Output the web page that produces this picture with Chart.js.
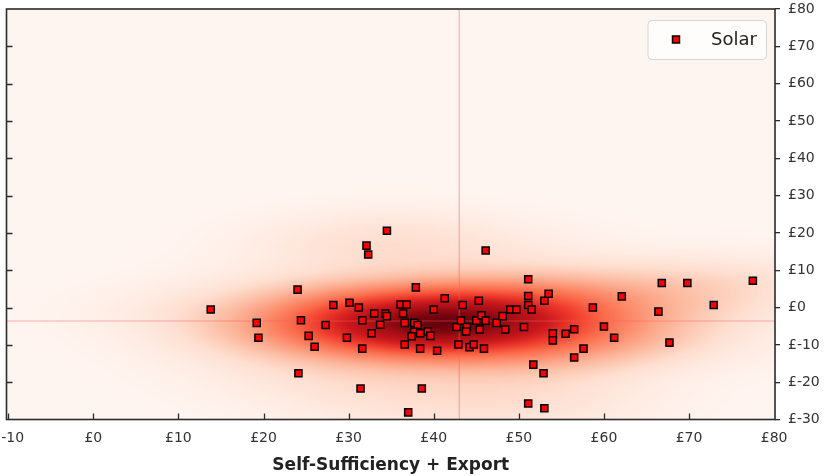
<!DOCTYPE html>
<html>
<head>
<meta charset="utf-8">
<script src="https://cdn.jsdelivr.net/npm/chart.js@4.4.1/dist/chart.umd.min.js"></script>
<style>
  html, body { margin: 0; padding: 0; background: #ffffff; }
  #wrap { position: relative; width: 825px; height: 476px; }
</style>
</head>
<body>
<div id="wrap"><canvas id="c" width="825" height="476"></canvas></div>
<script>
// ---- data ----
const seriesName = 'Solar';
const solarX = [13.8, 19.2, 19.4, 24.0, 24.4, 24.1, 25.3, 26.0, 27.3, 28.2,
  30.1, 29.8, 31.2, 31.6, 31.6, 31.4, 32.1, 32.3, 34.5, 33.0,
  33.7, 32.7, 34.3, 34.5, 36.1, 36.8, 36.4, 36.6, 37.9, 37.7,
  38.1, 37.7, 38.4, 37.4, 39.3, 39.6, 36.6, 38.4, 38.6, 37.0,
  40.0, 40.4, 41.3, 43.4, 42.7, 43.2, 43.9, 43.8, 42.9, 44.2,
  44.7, 45.0, 45.3, 45.4, 45.6, 46.1, 45.9, 46.1, 47.4, 48.1,
  48.4, 49.0, 49.7, 50.6, 51.1, 51.1, 51.1, 51.5, 53.0, 53.5,
  51.7, 52.9, 51.1, 53.0, 54.0, 54.0, 55.5, 56.5, 56.5, 57.6,
  58.7, 60.0, 61.2, 62.1, 66.4, 66.8, 67.7, 69.8, 72.9, 77.5];
const solarY = [-0.5, -4.1, -8.1, 4.8, -3.4, -17.6, -7.6, -10.5, -4.7, 0.7,
  1.3, -8.1, 0.0, -3.4, -11.0, -21.7, 16.6, 14.2, 20.6, -1.6,
  -4.6, -6.9, -1.6, -2.3, 0.8, 0.8, -1.6, -4.1, 5.4, -4.1,
  -4.7, -6.5, -6.9, -7.7, -6.4, -7.6, -9.9, -11.0, -21.7, -28.1,
  -0.5, -11.6, 2.5, 0.7, -5.2, -3.5, -5.2, -6.4, -9.9, -10.6,
  -9.9, -3.5, 1.8, -5.9, -2.1, -3.5, -11.0, 15.3, -4.1, -2.3,
  -5.9, -0.5, -0.5, -5.2, 7.6, 3.1, 0.7, -0.5, 1.8, 3.7,
  -15.3, -17.6, -25.7, -27.0, -6.9, -8.8, -7.0, -5.8, -13.4, -11.0,
  0.0, -5.1, -8.1, 3.0, -1.1, 6.6, -9.4, 6.6, 0.7, 7.2];
const refLineX = 43.0;   // vertical reference line
const refLineY = -3.6;   // horizontal reference line
const xTickValues = [-10, 0, 10, 20, 30, 40, 50, 60, 70, 80];
const yTickValues = [-30, -20, -10, 0, 10, 20, 30, 40, 50, 60, 70, 80];
const xRange = [-10.2, 80.1];
const yRange = [-30, 80];
const xTitle = 'Self-Sufficiency + Export';

// ---- style ----
const FONT = "'DejaVu Sans', sans-serif";
const BW_X = 1.55, BW_Y = 1.2, GAMMA = 0.85;
const REDS = [[255,245,240],[254,224,210],[252,187,161],[252,146,114],[251,106,74],
              [239,59,44],[203,24,29],[165,15,21],[103,0,13]];
function reds(t) {
  t = Math.max(0, Math.min(1, t));
  const p = t * (REDS.length - 1);
  const i = Math.min(REDS.length - 2, Math.floor(p));
  const f = p - i;
  const a = REDS[i], b = REDS[i + 1];
  return [a[0] + (b[0] - a[0]) * f, a[1] + (b[1] - a[1]) * f, a[2] + (b[2] - a[2]) * f];
}
const money = v => '£' + v;

// KDE background (Gaussian KDE) drawn through the chart scales
let kdeCache = null;
const kdePlugin = {
  id: 'kde',
  beforeDatasetsDraw(chart) {
    const { ctx, chartArea: a, scales: { x, y } } = chart;
    const w = a.right - a.left, h = a.bottom - a.top;
    const step = 2;
    const W = Math.ceil(w / step), H = Math.ceil(h / step);
    if (!kdeCache || kdeCache.W !== W || kdeCache.H !== H) {
      const n = solarX.length;
      let mx = 0, my = 0;
      for (let i = 0; i < n; i++) { mx += solarX[i]; my += solarY[i]; }
      mx /= n; my /= n;
      let sxx = 0, syy = 0, sxy = 0;
      for (let i = 0; i < n; i++) {
        const dx = solarX[i] - mx, dy = solarY[i] - my;
        sxx += dx * dx; syy += dy * dy; sxy += dx * dy;
      }
      sxx /= (n - 1); syy /= (n - 1); sxy /= (n - 1);
      const f2 = Math.pow(n, -2 / 6);
      const cxx = sxx * f2 * BW_X * BW_X, cyy = syy * f2 * BW_Y * BW_Y, cxy = sxy * f2 * BW_X * BW_Y;
      const det = cxx * cyy - cxy * cxy;
      const ixx = cyy / det, iyy = cxx / det, ixy = -cxy / det;
      const vals = new Float32Array(W * H);
      let vmax = 0;
      for (let j = 0; j < H; j++) {
        const vy = y.getValueForPixel(a.top + (j + 0.5) * step);
        for (let i = 0; i < W; i++) {
          const vx = x.getValueForPixel(a.left + (i + 0.5) * step);
          let s = 0;
          for (let k = 0; k < n; k++) {
            const dx = vx - solarX[k], dy = vy - solarY[k];
            s += Math.exp(-0.5 * (ixx * dx * dx + 2 * ixy * dx * dy + iyy * dy * dy));
          }
          vals[j * W + i] = s;
          if (s > vmax) vmax = s;
        }
      }
      const off = document.createElement('canvas');
      off.width = W; off.height = H;
      const octx = off.getContext('2d');
      const img = octx.createImageData(W, H);
      for (let p = 0; p < W * H; p++) {
        const c = reds(Math.pow(vals[p] / vmax, GAMMA));
        img.data[p * 4] = c[0]; img.data[p * 4 + 1] = c[1]; img.data[p * 4 + 2] = c[2]; img.data[p * 4 + 3] = 255;
      }
      octx.putImageData(img, 0, 0);
      kdeCache = { W, H, off };
    }
    ctx.save();
    ctx.imageSmoothingEnabled = true;
    ctx.drawImage(kdeCache.off, a.left, a.top, w, h);
    // reference lines
    ctx.strokeStyle = 'rgba(255,90,90,0.45)';
    ctx.lineWidth = 1.2;
    const px = x.getPixelForValue(refLineX), py = y.getPixelForValue(refLineY);
    ctx.beginPath();
    ctx.moveTo(px, a.top); ctx.lineTo(px, a.bottom);
    ctx.moveTo(a.left, py); ctx.lineTo(a.right, py);
    ctx.stroke();
    ctx.restore();
  },
  afterDatasetsDraw(chart) {
    const { ctx, chartArea: a, scales: { x, y } } = chart;
    ctx.save();
    ctx.strokeStyle = '#2b2b2b';
    ctx.lineWidth = 1.3;
    // inward ticks: bottom and left
    ctx.beginPath();
    xTickValues.forEach(v => {
      const px = Math.round(x.getPixelForValue(v)) + 0.5;
      if (px > a.left + 1 && px < a.right - 1) { ctx.moveTo(px, a.bottom); ctx.lineTo(px, a.bottom - 6); }
    });
    yTickValues.forEach(v => {
      const py = Math.round(y.getPixelForValue(v)) + 0.5;
      if (py > a.top + 1 && py < a.bottom - 1) { ctx.moveTo(a.left, py); ctx.lineTo(a.left + 6, py); }
    });
    ctx.stroke();
    // frame
    ctx.lineWidth = 1.6;
    ctx.strokeRect(a.left, a.top, a.right - a.left, a.bottom - a.top);
    // legend
    const ds = chart.data.datasets[0];
    const bx = 648, by = 20.5, bw = 118.5, bh = 39;
    ctx.beginPath();
    ctx.roundRect(bx, by, bw, bh, 4);
    ctx.fillStyle = 'rgba(255,255,255,0.8)';
    ctx.fill();
    ctx.strokeStyle = '#d6d6d6';
    ctx.lineWidth = 1;
    ctx.stroke();
    ctx.fillStyle = ds.backgroundColor;
    ctx.strokeStyle = ds.borderColor;
    ctx.lineWidth = 1.5;
    ctx.fillRect(672.5, 36, 7, 7);
    ctx.strokeRect(672.5, 36, 7, 7);
    ctx.fillStyle = '#222';
    ctx.font = "18px " + FONT;
    ctx.textBaseline = 'middle';
    ctx.textAlign = 'left';
    ctx.fillText(ds.label, 711, 40);
    ctx.restore();
  }
};

const points = solarX.map((v, i) => ({ x: v, y: solarY[i] }));

new Chart(document.getElementById('c'), {
  type: 'scatter',
  data: {
    datasets: [{
      label: seriesName,
      data: points,
      pointStyle: 'rect',
      pointRadius: 5,
      pointHoverRadius: 5,
      backgroundColor: '#ff0000',
      borderColor: '#000000',
      borderWidth: 1.5
    }]
  },
  options: {
    responsive: false,
    animation: false,
    devicePixelRatio: 1,
    layout: { padding: { left: 3.5, top: 9, right: 0, bottom: 0 } },
    plugins: {
      legend: { display: false },
      tooltip: { enabled: false }
    },
    scales: {
      x: {
        type: 'linear',
        position: 'bottom',
        min: xRange[0], max: xRange[1],
        afterBuildTicks: s => { s.ticks = xTickValues.map(v => ({ value: v })); },
        afterFit: s => { s.height = 476 - 419.5; s.paddingLeft = 0; s.paddingRight = 0; },
        grid: { display: false, drawTicks: false },
        border: { display: false },
        ticks: {
          color: '#333', padding: 10, maxRotation: 0, autoSkip: false,
          font: { family: FONT, size: 14 },
          callback: v => money(v)
        },
        title: {
          display: true, text: xTitle, color: '#222',
          font: { family: FONT, size: 17, weight: 'bold' },
          padding: { top: 4, bottom: 0 }
        }
      },
      y: {
        type: 'linear',
        position: 'right',
        min: yRange[0], max: yRange[1],
        afterBuildTicks: s => { s.ticks = yTickValues.map(v => ({ value: v })); },
        afterFit: s => { s.width = 50; s.paddingTop = 0; s.paddingBottom = 0; },
        grid: { display: true, drawOnChartArea: false, drawTicks: true, tickLength: 5, color: '#2b2b2b', lineWidth: 1.3 },
        border: { display: false },
        ticks: {
          color: '#333', padding: 8, autoSkip: false,
          font: { family: FONT, size: 14 },
          callback: v => money(v)
        }
      }
    }
  },
  plugins: [kdePlugin]
});
</script>
</body>
</html>
